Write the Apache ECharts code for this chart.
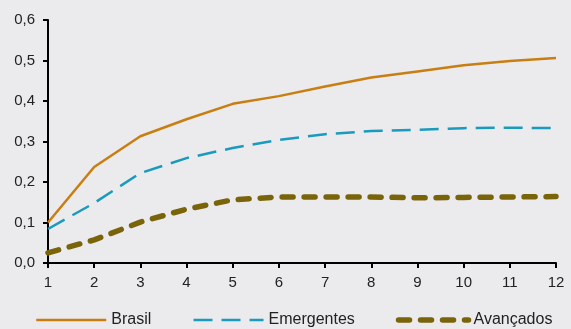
<!DOCTYPE html>
<html>
<head>
<meta charset="utf-8">
<script src="https://cdn.jsdelivr.net/npm/echarts@6/dist/echarts.min.js"></script>
<style>
html,body{margin:0;padding:0;background:#EBEBEE;}
#c{width:571px;height:329px;}
</style>
</head>
<body>
<div id="c"></div>
<script>
var categories = ['1','2','3','4','5','6','7','8','9','10','11','12'];
var brasil = [0.100,0.237,0.313,0.355,0.393,0.412,0.436,0.458,0.473,0.488,0.499,0.506];
var emergentes = [0.084,0.148,0.222,0.259,0.284,0.304,0.318,0.326,0.329,0.333,0.334,0.333];
var avancados = [0.025,0.057,0.101,0.133,0.156,0.163,0.163,0.163,0.161,0.162,0.163,0.164];
var yTicks = {min:0, max:0.6, interval:0.1};

var chart = echarts.init(document.getElementById('c'), null, {renderer:'canvas'});
var font = 'Liberation Sans, Arial, sans-serif';
chart.setOption({
  backgroundColor: '#EBEBEE',
  animation: false,
  grid: {left:48, right:15, top:20, bottom:66},
  legend: {
    top: 307,
    left: 30,
    itemWidth: 70,
    itemHeight: 10,
    itemGap: 41,
    itemStyle: {opacity: 0},
    lineStyle: {width: 'inherit', type: 'inherit', cap: 'inherit'},
    textStyle: {fontFamily: font, fontSize: 16, color: '#222'},
    data: ['Brasil','Emergentes','Avançados']
  },
  xAxis: {
    type: 'category',
    data: categories,
    boundaryGap: false,
    axisLine: {lineStyle: {color:'#000', width:2}},
    axisTick: {show:true, inside:false, length:5, lineStyle:{color:'#000', width:2}},
    axisLabel: {fontFamily: font, fontSize: 15, color:'#222', margin: 12},
    splitLine: {show:false}
  },
  yAxis: {
    type: 'value',
    min: yTicks.min, max: yTicks.max, interval: yTicks.interval,
    axisLine: {show:true, lineStyle: {color:'#000', width:2}},
    axisTick: {show:true, length:5, lineStyle:{color:'#000', width:2}},
    axisLabel: {fontFamily: font, fontSize: 15, color:'#222', margin: 13,
      formatter: function(v){ return v.toFixed(1).replace('.', ','); }},
    splitLine: {show:false}
  },
  series: [
    {name:'Brasil', type:'line', data:brasil, symbol:'none',
     lineStyle:{color:'#C97E12', width:2.5}, itemStyle:{color:'#C97E12'}},
    {name:'Emergentes', type:'line', data:emergentes, symbol:'none',
     lineStyle:{color:'#1A9BBE', width:2.5, type:[19,9]}, itemStyle:{color:'#1A9BBE'}},
    {name:'Avançados', type:'line', data:avancados, symbol:'none',
     lineStyle:{color:'#7A640A', width:5.5, type:[11,11], cap:'round'}, itemStyle:{color:'#7A640A'}}
  ]
});
</script>
</body>
</html>
